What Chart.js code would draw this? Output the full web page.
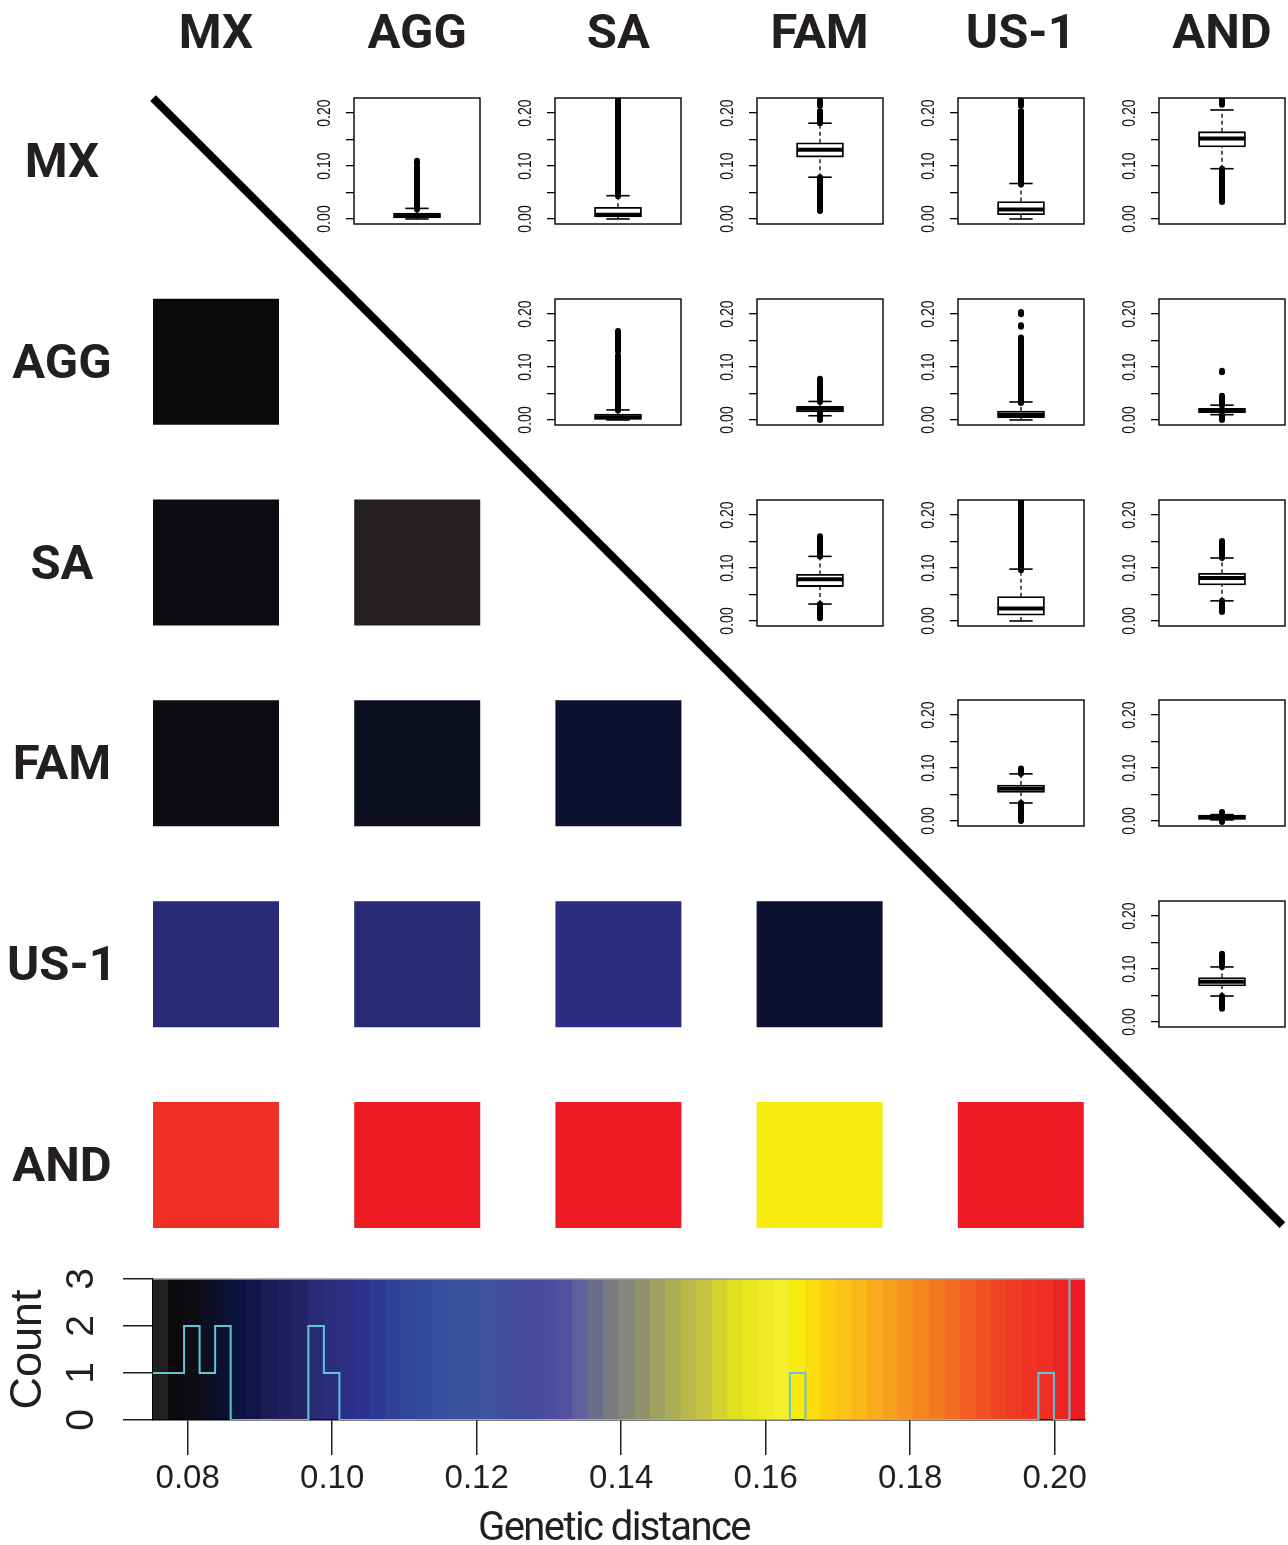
<!DOCTYPE html>
<html>
<head>
<meta charset="utf-8">
<script src="https://cdn.jsdelivr.net/npm/chart.js@4.4.1/dist/chart.umd.min.js"></script>
<style>
  body { margin: 0; background: #fff; width: 1288px; height: 1545px; position: relative; overflow: hidden; }
  canvas { position: absolute; }
</style>
</head>
<body>
<script>
const pops = ['MX', 'AGG', 'SA', 'FAM', 'US-1', 'AND'];

// pairwise genetic distance, lower triangle (row vs the populations before it)
const distAGG = [0.0785];
const distSA = [0.0808, 0.0763];
const distFAM = [0.0812, 0.0830, 0.0850];
const distUS1 = [0.0975, 0.0980, 0.1000, 0.0848];
const distAND = [0.1985, 0.2032, 0.2035, 0.1645, 0.2038];
const distRows = [[], distAGG, distSA, distFAM, distUS1, distAND];

// colour key, 60 bins from keyMin to keyMax
const keyMin = 0.0752;
const keyMax = 0.2042;
const keyColors = [
  '#231f20', '#0a0a0c', '#0f0d14', '#0d0f20', '#0b112e', '#0a1242', '#13134b', '#1b1a56', '#201f5e', '#242365',
  '#282a76', '#2b2d7e', '#2b2f86', '#2b3290', '#2d3994', '#2f4097', '#314599', '#33499b', '#364e9d', '#39539e',
  '#3a539f', '#3d52a0', '#404f9f', '#434c9e', '#474b9e', '#4b4c9f', '#5450a0', '#5f5f9b', '#6c6c8a', '#7b7b82',
  '#85867b', '#8f906c', '#9ea060', '#adad55', '#bbb74b', '#c6c440', '#d4d22e', '#dfe020', '#e8e81e', '#efeb24',
  '#f4ee2d', '#f8eb0e', '#fcdc0c', '#fdcf10', '#fbc315', '#f9b919', '#f8ac1c', '#f6a01e', '#f6921f', '#f5851f',
  '#f47a20', '#f36c21', '#f15d22', '#f05123', '#ee4424', '#ef3a24', '#ef3324', '#ef2e24', '#ed2324', '#ed1c24'
];
const histCounts = [
  1, 1, 2, 1, 2, 0, 0, 0, 0, 0,
  2, 1, 0, 0, 0, 0, 0, 0, 0, 0,
  0, 0, 0, 0, 0, 0, 0, 0, 0, 0,
  0, 0, 0, 0, 0, 0, 0, 0, 0, 0,
  0, 1, 0, 0, 0, 0, 0, 0, 0, 0,
  0, 0, 0, 0, 0, 0, 0, 1, 0, 3
];
const xTicks = [0.08, 0.10, 0.12, 0.14, 0.16, 0.18, 0.20];
const countTicks = [0, 1, 2, 3];
const xTitle = 'Genetic distance';

// boxplots, upper triangle: [low whisker, q1, median, q3, high whisker]
const boxMX = [
  [0.000, 0.002, 0.006, 0.011, 0.020],
  [0.000, 0.004, 0.008, 0.022, 0.044],
  [0.079, 0.117, 0.131, 0.144, 0.181],
  [0.000, 0.008, 0.018, 0.033, 0.067],
  [0.095, 0.136, 0.152, 0.165, 0.206]
];
const boxAGG = [
  [0.000, 0.001, 0.005, 0.011, 0.019],
  [0.008, 0.015, 0.021, 0.026, 0.035],
  [0.000, 0.0045, 0.010, 0.017, 0.034],
  [0.010, 0.014, 0.018, 0.022, 0.028]
];
const boxSA = [
  [0.032, 0.065, 0.079, 0.088, 0.122],
  [0.000, 0.011, 0.0235, 0.046, 0.098],
  [0.038, 0.068, 0.081, 0.090, 0.119]
];
const boxFAM = [
  [0.034, 0.054, 0.061, 0.068, 0.089],
  [0.002, 0.003, 0.007, 0.011, 0.012]
];
const boxUS1 = [
  [0.049, 0.068, 0.076, 0.084, 0.104]
];
// outlier runs [from, to]
const outMX = [
  [[0.018, 0.098], [0.105, 0.110]],
  [[0.043, 0.229]],
  [[0.015, 0.079], [0.181, 0.204], [0.214, 0.224]],
  [[0.065, 0.204], [0.214, 0.224]],
  [[0.032, 0.095], [0.216, 0.225]]
];
const outAGG = [
  [[0.018, 0.122], [0.130, 0.168]],
  [[0.000, 0.012], [0.034, 0.078]],
  [[0.032, 0.156], [0.176, 0.179], [0.200, 0.204]],
  [[0.000, 0.010], [0.027, 0.046], [0.090, 0.093]]
];
const outSA = [
  [[0.005, 0.032], [0.122, 0.160]],
  [[0.096, 0.229]],
  [[0.017, 0.038], [0.119, 0.151]]
];
const outFAM = [
  [[0.000, 0.034], [0.089, 0.099]],
  [[-0.002, 0.003], [0.011, 0.017]]
];
const outUS1 = [
  [[0.025, 0.049], [0.104, 0.129]]
];
const boxRows = [boxMX, boxAGG, boxSA, boxFAM, boxUS1];
const outRows = [outMX, outAGG, outSA, outFAM, outUS1];
const boxTicks = [0, 0.05, 0.10, 0.15, 0.20];
const boxLabels = [0, 0.10, 0.20];

Chart.defaults.animation = false;
Chart.defaults.events = [];
Chart.defaults.plugins.legend.display = false;
Chart.defaults.plugins.tooltip.enabled = false;

const ink = '#231f20';
const half = 63; // half cell size in px
const binW = (keyMax - keyMin) / keyColors.length;

function colorFor(v) {
  const i = Math.max(0, Math.min(keyColors.length - 1, Math.floor((v - keyMin) / binW)));
  return keyColors[i];
}

function makeCanvas(left, top, w, h) {
  const c = document.createElement('canvas');
  c.width = w;
  c.height = h;
  c.style.left = left + 'px';
  c.style.top = top + 'px';
  c.style.width = w + 'px';
  c.style.height = h + 'px';
  document.body.appendChild(c);
  return c;
}

// Heatmap + diagonal
const cells = [];
distRows.forEach((row, r) => row.forEach((v, c) => cells.push({ x: c, y: r, v })));

const popLabels = {
  id: 'popLabels',
  afterDraw(chart) {
    const { ctx, scales: { x, y } } = chart;
    ctx.save();
    ctx.fillStyle = ink;
    ctx.font = 'bold 49px Roboto';
    ctx.textAlign = 'center';
    ctx.textBaseline = 'alphabetic';
    pops.forEach((p, i) => {
      ctx.fillText(p, x.getPixelForValue(i), 48);
      ctx.fillText(p, 62, y.getPixelForValue(i) + 16);
    });
    ctx.restore();
  }
};

const heat = new Chart(makeCanvas(0, 0, 1288, 1240), {
  type: 'scatter',
  data: {
    datasets: [
      {
        type: 'line',
        data: [{ x: -0.313, y: -0.313 }, { x: 5.3, y: 5.3 }],
        borderColor: '#000',
        borderWidth: 8,
        pointRadius: 0,
        clip: false,
        order: 0
      },
      {
        data: cells,
        pointStyle: 'rect',
        pointRadius: half / Math.SQRT1_2,
        backgroundColor: cells.map(d => colorFor(d.v)),
        borderWidth: 0,
        order: 1
      }
    ]
  },
  options: {
    responsive: false,
    layout: { padding: 0, autoPadding: false },
    scales: {
      x: { type: 'linear', display: false, min: -1.0736, max: 5.328 },
      y: { type: 'linear', display: false, min: -0.802, max: 5.374, reverse: true }
    }
  },
  plugins: [popLabels]
});

// Boxplots
const boxFrame = {
  id: 'boxFrame',
  afterDraw(chart) {
    const { ctx, chartArea: a, scales: { y } } = chart;
    ctx.save();
    ctx.strokeStyle = '#000';
    ctx.lineWidth = 1.4;
    ctx.strokeRect(a.left, a.top, a.right - a.left, a.bottom - a.top);
    ctx.fillStyle = '#111';
    ctx.font = '18px "Liberation Sans"';
    ctx.textAlign = 'center';
    ctx.textBaseline = 'middle';
    boxLabels.forEach(v => {
      ctx.save();
      ctx.translate(a.left - 29, y.getPixelForValue(v));
      ctx.rotate(-Math.PI / 2);
      ctx.scale(0.78, 1);
      ctx.fillText(v.toFixed(2), 0, 0);
      ctx.restore();
    });
    ctx.restore();
  }
};

function seg(pts, w, extra) {
  return Object.assign({
    type: 'line',
    data: pts,
    borderColor: '#000',
    borderWidth: w,
    pointRadius: 0,
    borderCapStyle: 'butt'
  }, extra);
}

function boxChart(r, c, s, outs) {
  const x0 = heat.scales.x.getPixelForValue(c) - half;
  const y0 = heat.scales.y.getPixelForValue(r) - half;
  const [lo, q1, med, q3, hi] = s;
  const datasets = [
    seg([{ x: 0.8, y: med }, { x: 1.2, y: med }], 4, { order: 0 }),
    {
      type: 'bar',
      data: [{ x: 1, y: [q1, q3] }],
      backgroundColor: '#fff',
      borderColor: '#000',
      borderWidth: 1.8,
      borderSkipped: false,
      barThickness: 47,
      order: 1
    },
    ...outs.map(o => seg([{ x: 1, y: o[0] }, { x: 1, y: o[1] }], 6, { order: 2, borderCapStyle: 'round', clip: 0 })),
    seg([{ x: 0.9, y: hi }, { x: 1.1, y: hi }], 1.6, { order: 3 }),
    seg([{ x: 0.9, y: lo }, { x: 1.1, y: lo }], 1.6, { order: 3 }),
    seg([{ x: 1, y: q3 }, { x: 1, y: hi }], 1.3, { order: 4, borderDash: [4, 3] }),
    seg([{ x: 1, y: lo }, { x: 1, y: q1 }], 1.3, { order: 4, borderDash: [4, 3] })
  ];
  new Chart(makeCanvas(x0 - 50, y0 - 10, 180, 146), {
    type: 'bar',
    data: { datasets },
    options: {
      responsive: false,
      layout: { padding: { top: 10, bottom: 10, left: 0, right: 4 }, autoPadding: false },
      scales: {
        x: { type: 'linear', display: false, min: 0.46, max: 1.54, offset: false, grid: { offset: false } },
        y: {
          type: 'linear',
          min: -0.0095,
          max: 0.2286,
          afterBuildTicks: sc => { sc.ticks = boxTicks.map(v => ({ value: v })); },
          afterFit: sc => { sc.width = 50; },
          ticks: { display: false },
          border: { display: false },
          grid: { drawOnChartArea: false, tickLength: 8, color: '#000', lineWidth: 1.3 }
        }
      }
    },
    plugins: [boxFrame]
  });
}

boxRows.forEach((row, r) => row.forEach((s, k) => boxChart(r, r + 1 + k, s, outRows[r][k])));

// Colour key with histogram
const keyBars = keyColors.map((col, i) => ({ x: keyMin + (i + 0.5) * binW, y: countTicks[countTicks.length - 1] }));
const steps = histCounts.map((n, i) => ({ x: keyMin + i * binW, y: n }));
steps.push({ x: keyMax, y: histCounts[histCounts.length - 1] });

const keyDecor = {
  id: 'keyDecor',
  afterDatasetsDraw(chart) {
    const { ctx, chartArea: a } = chart;
    ctx.save();
    ctx.strokeStyle = '#9a9a9a';
    ctx.lineWidth = 1.5;
    ctx.beginPath();
    ctx.moveTo(a.left, a.top);
    ctx.lineTo(a.right, a.top);
    ctx.stroke();
    ctx.restore();
  },
  afterDraw(chart) {
    const { ctx, scales: { x, y } } = chart;
    ctx.save();
    ctx.fillStyle = ink;
    ctx.font = '39px "Liberation Sans"';
    ctx.textAlign = 'center';
    ctx.textBaseline = 'middle';
    countTicks.forEach(v => {
      ctx.save();
      ctx.translate(82, y.getPixelForValue(v));
      ctx.rotate(-Math.PI / 2);
      ctx.fillText(String(v), 0, 0);
      ctx.restore();
    });
    // axis title, tightly tracked
    ctx.font = '40px Roboto';
    ctx.letterSpacing = '-1.6px';
    ctx.textBaseline = 'alphabetic';
    ctx.fillText(xTitle, 614, x.bottom - 5);
    ctx.restore();
  }
};

new Chart(makeCanvas(0, 1240, 1288, 305), {
  type: 'bar',
  data: {
    datasets: [
      {
        type: 'line',
        data: steps,
        stepped: 'before',
        borderColor: '#62c5d6',
        borderWidth: 2,
        pointRadius: 0,
        order: 0
      },
      {
        data: keyBars,
        backgroundColor: keyColors,
        borderWidth: 0,
        barPercentage: 1.06,
        categoryPercentage: 1,
        order: 1
      }
    ]
  },
  options: {
    responsive: false,
    layout: { padding: { top: 39, right: 203, left: 0, bottom: 0 }, autoPadding: false },
    scales: {
      x: {
        type: 'linear',
        min: keyMin,
        max: keyMax,
        offset: false,
        afterBuildTicks: sc => { sc.ticks = xTicks.map(v => ({ value: v })); },
        afterFit: sc => { sc.height = 125; },
        grid: { offset: false, drawOnChartArea: false, tickLength: 35, color: ink, lineWidth: 1.5 },
        border: { display: true, color: '#000', width: 1.5 },
        ticks: {
          font: { family: 'Liberation Sans', size: 33 },
          color: ink,
          padding: 4,
          maxRotation: 0,
          autoSkip: false,
          callback: v => v.toFixed(2)
        }
      },
      y: {
        min: 0,
        max: 3,
        afterBuildTicks: sc => { sc.ticks = countTicks.map(v => ({ value: v })); },
        afterFit: sc => { sc.width = 153; },
        ticks: { display: false },
        grid: { drawOnChartArea: false, tickLength: 30, color: ink, lineWidth: 1.5 },
        border: { display: true, color: '#000', width: 1.5 },
        title: {
          display: true,
          text: 'Count',
          color: ink,
          font: { family: 'Liberation Sans', size: 45, lineHeight: 1 },
          padding: { top: 6, bottom: 0 }
        }
      }
    }
  },
  plugins: [keyDecor]
});
</script>
</body>
</html>
